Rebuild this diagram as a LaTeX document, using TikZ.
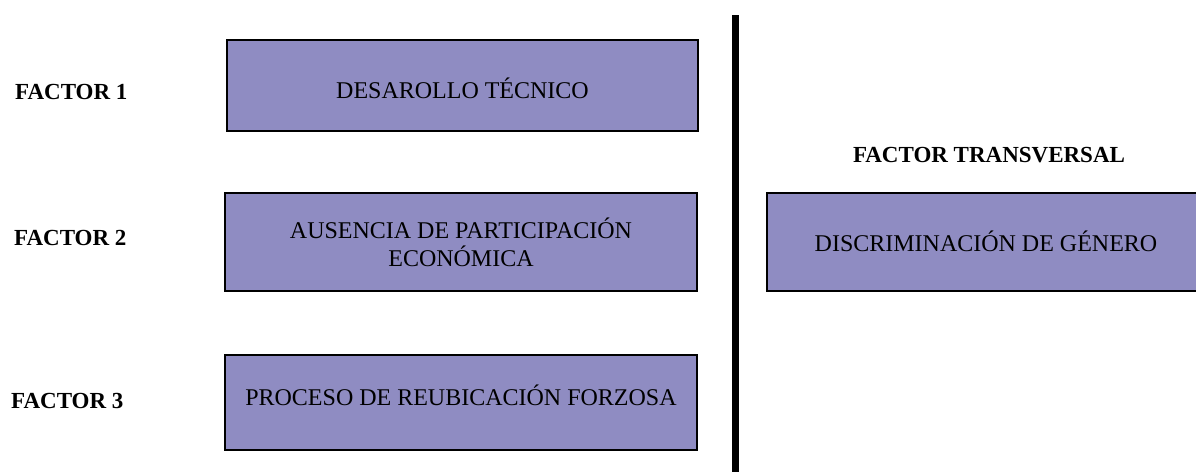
\documentclass[tikz,border=0pt]{standalone}
\usepackage{fontspec}
\setmainfont{Liberation Serif}
\usepackage{tikz}
\definecolor{clbox}{RGB}{143,140,194}
\tikzset{
    factorbox/.style={draw=black, line width=2pt, fill=clbox, inner sep=0pt, align=center,
        font=\fontsize{24}{28}\selectfont},
    factorlabel/.style={font=\fontsize{23}{28}\selectfont\bfseries, inner sep=0pt}
}

\begin{document}
\begin{tikzpicture}[x=1pt, y=-1pt]
    \useasboundingbox(0, 0) rectangle (1196, 472);
    \node[factorlabel, anchor=base west](f1)at(15, 99){FACTOR 1};
    \node[factorlabel, anchor=base west](f2)at(14, 245){FACTOR 2};
    \node[factorlabel, anchor=base west](f3)at(11, 408){FACTOR 3};
    \node[factorlabel, anchor=base](ft)at(989, 162){FACTOR TRANSVERSAL};
    \node[factorbox, minimum width=471pt, minimum height=91pt, text height=26pt, text depth=0pt](tec)at(462.5, 85){DESAROLLO TÉCNICO};
    \node[factorbox, minimum width=472pt, minimum height=98pt](eco)at(461, 242){AUSENCIA DE PARTICIPACIÓN\\ECONÓMICA};
    \node[factorbox, minimum width=472pt, minimum height=95pt, text height=16pt, text depth=9pt](reu)at(461, 402){PROCESO DE REUBICACIÓN FORZOSA};
    \node[factorbox, minimum width=438pt, minimum height=98pt, text height=18pt, text depth=0pt](gen)at(986, 242){DISCRIMINACIÓN DE GÉNERO};
    \draw[line width=7pt](735, 15)--(735, 472);
\end{tikzpicture}
\end{document}
